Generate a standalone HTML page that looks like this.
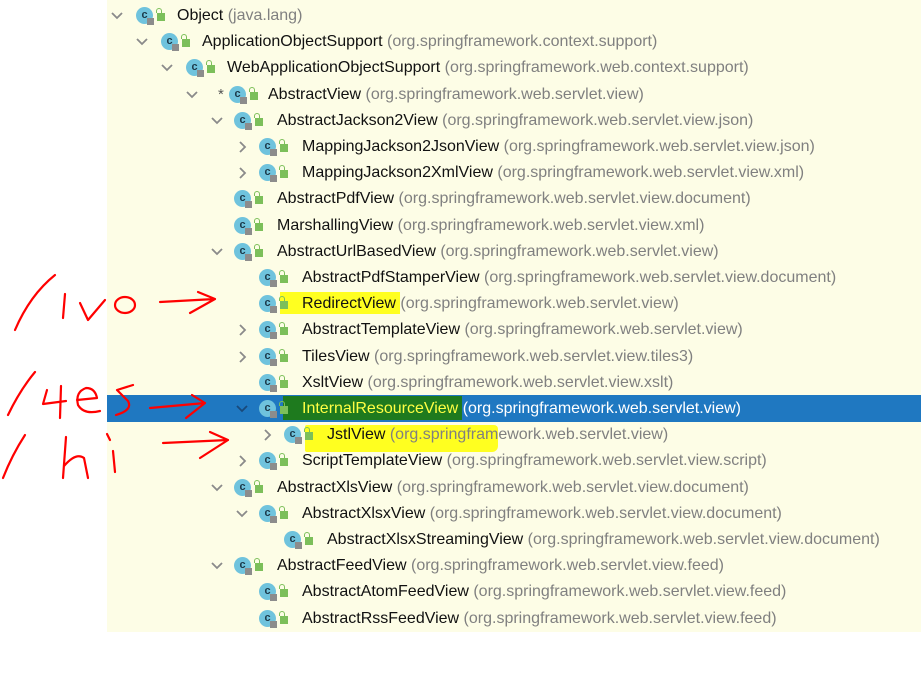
<!DOCTYPE html>
<html><head><meta charset="utf-8"><style>
body{margin:0;width:921px;height:692px;background:#fff;position:relative;overflow:hidden;font-family:"Liberation Sans",sans-serif}
#panel{position:absolute;left:107px;top:0;width:814px;height:632px;background:#fdfde6}
.hl{position:absolute;z-index:1}
#rows{position:absolute;left:107px;top:0;width:814px;height:632px;z-index:2}
.row{position:absolute;left:0;width:814px;height:26px;font-size:16px;line-height:26px;white-space:nowrap}
.row span.t{position:absolute;top:0;color:#111}
.row span.p{color:#808080}
.ic{position:absolute;top:4px;width:17px;height:17px;border-radius:50%;background:#6fc3dd;color:#1c3a4a;font-size:11px;font-weight:bold;line-height:17px;text-align:center}
.ic:after{content:"";position:absolute;left:11px;top:11px;width:7px;height:7px;background:#8c8c8c}
.lk{position:absolute;top:10px;width:8px;height:8px;background:#7cbf5a}
.lk:before{content:"";position:absolute;left:-1px;top:-5px;width:4px;height:4px;border:1.5px solid #7cbf5a;border-bottom:none;border-radius:3px 3px 0 0}
.ch{position:absolute;top:8px}
.sel span.t{color:#ffff44}
.sel span.p{color:#fff}
</style></head><body>
<div id="panel"></div>
<div style="position:absolute;left:107px;top:395px;width:814px;height:27px;background:#1f78c1;z-index:0"></div>
<div class="hl" style="left:280px;top:292px;width:120px;height:22px;background:#ffff20"></div>
<div class="hl" style="left:305px;top:425px;width:193px;height:27px;background:#ffff20;border-radius:2px 4px 6px 2px"></div>
<div class="hl" style="left:283px;top:396px;width:179px;height:24px;background:#1e7a1e"></div>
<div id="rows"></div>
<svg width="921" height="692" style="position:absolute;left:0;top:0;z-index:3" fill="none" stroke="#f00" stroke-width="2.2" stroke-linecap="round" stroke-linejoin="round">
<path d="M15 330 Q30 295 55 275"/>
<path d="M65 294 L63 318"/>
<path d="M80 303 L88 320 L105 300"/>
<ellipse cx="125" cy="305" rx="10" ry="8"/>
<path d="M160 302 L215 299 M198 292 L215 299 L190 313"/>
<path d="M8 415 Q20 390 35 372"/>
<path d="M47 390 L43 404 L66 401 M61 386 L60 418"/>
<path d="M77 400 L97 398 Q95 388 86 388 Q75 392 78 405 Q84 415 100 411"/>
<path d="M133 385 L117 390 L128 401 Q133 410 116 415"/>
<path d="M150 408 L205 403 M192 395 L205 403 L186 418"/>
<path d="M3 478 Q12 455 25 435"/>
<path d="M66 437 L63 478 M64 466 Q76 452 84 458 L88 478"/>
<path d="M113 451 L115 472 M107 434 L110 440"/>
<path d="M163 443 L228 440 M210 432 L228 440 L200 458"/>
</svg>
<script>
var R=[["Object","java.lang",0,"v"],["ApplicationObjectSupport","org.springframework.context.support",1,"v"],["WebApplicationObjectSupport","org.springframework.web.context.support",2,"v"],["AbstractView","org.springframework.web.servlet.view",3,"v*"],
["AbstractJackson2View","org.springframework.web.servlet.view.json",4,"v"],["MappingJackson2JsonView","org.springframework.web.servlet.view.json",5,">"],["MappingJackson2XmlView","org.springframework.web.servlet.view.xml",5,">"],["AbstractPdfView","org.springframework.web.servlet.view.document",4,""],["MarshallingView","org.springframework.web.servlet.view.xml",4,""],["AbstractUrlBasedView","org.springframework.web.servlet.view",4,"v"],["AbstractPdfStamperView","org.springframework.web.servlet.view.document",5,""],["RedirectView","org.springframework.web.servlet.view",5,""],["AbstractTemplateView","org.springframework.web.servlet.view",5,">"],["TilesView","org.springframework.web.servlet.view.tiles3",5,">"],["XsltView","org.springframework.web.servlet.view.xslt",5,""],["InternalResourceView","org.springframework.web.servlet.view",5,"v"],["JstlView","org.springframework.web.servlet.view",6,">"],["ScriptTemplateView","org.springframework.web.servlet.view.script",5,">"],["AbstractXlsView","org.springframework.web.servlet.view.document",4,"v"],["AbstractXlsxView","org.springframework.web.servlet.view.document",5,"v"],["AbstractXlsxStreamingView","org.springframework.web.servlet.view.document",6,""],["AbstractFeedView","org.springframework.web.servlet.view.feed",4,"v"],["AbstractAtomFeedView","org.springframework.web.servlet.view.feed",5,""],["AbstractRssFeedView","org.springframework.web.servlet.view.feed",5,""]];
var h="";
R.forEach(function(r,i){var top=Math.round(3+26.2*i);var L=r[2];
if(i==15)top=396;
var base=L<=3?25*L:100+(L-4)*25;
var chx=base+4,icx=base+29,tx=base+70;
if(L==3){icx=base+47;tx=base+86;}
if(L>=4){icx=base+127-100;tx=base+170-100;}
var sel=i==15;
var col=sel?'#19497a':'#8a8a8a';
h+='<div class="row'+(sel?' sel':'')+'" style="top:'+top+'px">';
if(r[3][0]=="v")h+='<svg class="ch" style="left:'+chx+'px" width="12" height="10"><polyline points="1,2 6,7 11,2" fill="none" stroke="'+col+'" stroke-width="1.8"/></svg>';
if(r[3]==">")h+='<svg class="ch" style="left:'+(chx+2)+'px;top:7px" width="10" height="12"><polyline points="2,1 7,6 2,11" fill="none" stroke="'+col+'" stroke-width="1.8"/></svg>';
if(r[3]=="v*")h+='<span style="position:absolute;left:'+(base+36)+'px;color:#555;font-size:15px">*</span>';
h+='<span class="ic" style="left:'+icx+'px">c</span><span class="lk" style="left:'+(icx+21)+'px"></span>';
h+='<span class="t" style="left:'+tx+'px">'+r[0]+' <span class="p">('+r[1]+')</span></span></div>';});
document.getElementById('rows').innerHTML=h;
</script>
</body></html>
